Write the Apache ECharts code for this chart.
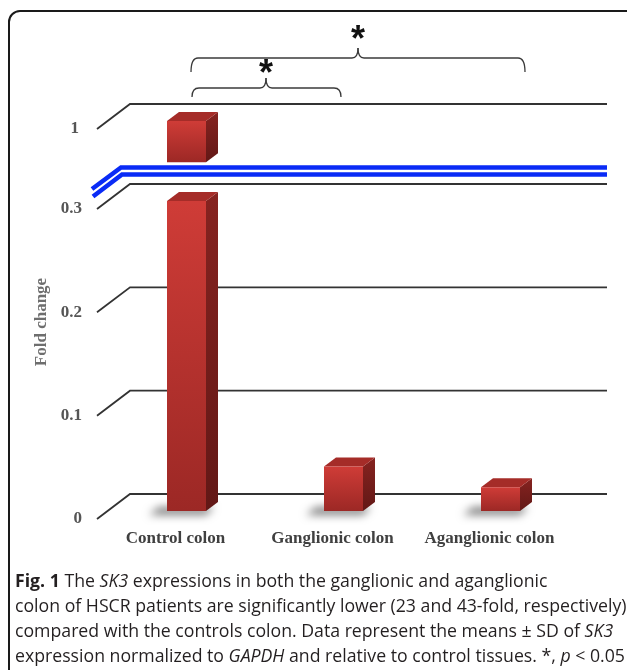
<!DOCTYPE html>
<html><head><meta charset="utf-8">
<script src="https://cdn.jsdelivr.net/npm/echarts@6/dist/echarts.min.js"></script>
<style>html,body{margin:0;padding:0;background:#fff}#c{width:627px;height:670px}</style>
</head><body><div id="c"></div>
<script>
// ---- data ----
const categories = ['Control colon', 'Ganglionic colon', 'Aganglionic colon'];
const foldChange = [1, 0.043, 0.023];
const lowerTicks = [0, 0.1, 0.2, 0.3];
const upperTicks = [1];
const lowerRange = [0, 0.3];
const upperRange = [0.96, 1];
const captionLines = [
  '{b|Fig. 1} The {i|SK3} expressions in both the ganglionic and aganglionic',
  'colon of HSCR patients are significantly lower (23 and 43-fold, respectively)',
  'compared with the controls colon. Data represent the means \u00b1 SD of {i|SK3}',
  'expression normalized to {i|GAPDH} and relative to control tissues. *, {i|p} < 0.05'
];

// ---- styling ----
const DEPTH_X = 33, DEPTH_Y = -25;
const BAR_X = 11, BAR_Y = -8;
const BAR_HALF = 19.5, BAR_DX = 12, BAR_DY = -9;
const SERIF = '"Liberation Serif", "DejaVu Serif", serif';
const SANS = '"Open Sans", "Noto Sans", sans-serif';
const CAP = 17.7;

function gridRender(params, api) {
  const p = api.coord([0, api.value(1)]);
  const cs = params.coordSys;
  const x0 = cs.x, y = p[1];
  return {
    type: 'polyline',
    shape: { points: [[x0, y], [x0 + DEPTH_X, y + DEPTH_Y], [cs.x + cs.width + DEPTH_X + 6, y + DEPTH_Y]] },
    style: { stroke: '#333', lineWidth: 1.8, fill: null }
  };
}

function barRender(range, withShadow) {
  return function (params, api) {
    const i = api.value(0);
    const v = Math.min(api.value(1), range[1]);
    const b = api.coord([i, range[0]]);
    const t = api.coord([i, v]);
    const cx = b[0] + BAR_X, yb = b[1] + BAR_Y, yt = t[1] + BAR_Y;
    const l = cx - BAR_HALF, r = cx + BAR_HALF;
    const children = [];
    if (withShadow) {
      const off = 2000;
      children.push({
        type: 'polygon',
        shape: { points: [[l - 18 - off, yb + 4], [r - off, yb + 4], [r + 8 - off, yb - 4], [l - 8 - off, yb - 4]] },
        style: { fill: '#000', shadowBlur: 9, shadowColor: 'rgba(0,0,0,0.5)', shadowOffsetX: off, shadowOffsetY: 0 }
      });
    }
    children.push({
      type: 'polygon',
      shape: { points: [[r, yt], [r + BAR_DX, yt + BAR_DY], [r + BAR_DX, yb + BAR_DY], [r, yb]] },
      style: { fill: { type: 'linear', x: 0, y: 0, x2: 0, y2: 1, colorStops: [{ offset: 0, color: '#862320' }, { offset: 1, color: '#621816' }] } }
    });
    children.push({
      type: 'polygon',
      shape: { points: [[l, yt], [l + BAR_DX, yt + BAR_DY], [r + BAR_DX, yt + BAR_DY], [r, yt]] },
      style: { fill: '#a52c28' }
    });
    children.push({
      type: 'rect',
      shape: { x: l, y: yt, width: r - l, height: yb - yt },
      style: { fill: { type: 'linear', x: 0, y: 0, x2: 0, y2: 1, colorStops: [{ offset: 0, color: '#cf3c37' }, { offset: 1, color: '#9c2825' }] } }
    });
    return { type: 'group', children: children };
  };
}

function bracket(xl, xr, xm, yTop, yEnd, yTip) {
  const st = { stroke: '#3a3a3a', lineWidth: 1.3, fill: null };
  const c = [
    { type: 'bezierCurve', shape: { x1: xl, y1: yEnd, cpx1: xl, cpy1: yTop, x2: xl + 7, y2: yTop }, style: st },
    { type: 'line', shape: { x1: xl + 7, y1: yTop, x2: xm - 6, y2: yTop }, style: st },
    { type: 'bezierCurve', shape: { x1: xm - 6, y1: yTop, cpx1: xm, cpy1: yTop, x2: xm, y2: yTip }, style: st },
    { type: 'bezierCurve', shape: { x1: xm, y1: yTip, cpx1: xm, cpy1: yTop, x2: xm + 6, y2: yTop }, style: st },
    { type: 'line', shape: { x1: xm + 6, y1: yTop, x2: xr - 7, y2: yTop }, style: st },
    { type: 'bezierCurve', shape: { x1: xr - 7, y1: yTop, cpx1: xr, cpy1: yTop, x2: xr, y2: yEnd }, style: st }
  ];
  return { type: 'group', z: 10, children: c };
}

const barData = categories.map((c, i) => [i, foldChange[i]]);

const chart = echarts.init(document.getElementById('c'), null, { renderer: 'canvas' });
const graphic = [
  { type: 'rect', shape: { x: 9, y: 11, width: 640, height: 700, r: 11 }, style: { fill: null, stroke: '#1a1a1a', lineWidth: 2 }, z: 0 },
  // axis break lines
  { type: 'polyline', shape: { points: [[92, 189], [121, 167.5], [607, 167.5]] }, style: { stroke: '#0a2bf6', lineWidth: 4.5, fill: null }, z: 10 },
  { type: 'polyline', shape: { points: [[93, 196.5], [122, 174.5], [607, 174.5]] }, style: { stroke: '#0a2bf6', lineWidth: 4.5, fill: null }, z: 10 },
  // significance brackets
  bracket(191, 525, 358, 58, 72, 48),
  bracket(192, 341, 266, 88, 97, 78),
  { type: 'text', x: 358, y: 41, style: { text: '*', font: 'bold 36px "Liberation Sans", sans-serif', fill: '#111', textAlign: 'center', textVerticalAlign: 'middle' }, z: 10 },
  { type: 'text', x: 266, y: 75, style: { text: '*', font: 'bold 36px "Liberation Sans", sans-serif', fill: '#111', textAlign: 'center', textVerticalAlign: 'middle' }, z: 10 },
  // y axis title
  { type: 'text', x: 42, y: 322, rotation: Math.PI / 2, style: { text: 'Fold change', font: 'bold 17px ' + SERIF, fill: '#6e6e6e', textAlign: 'center', textVerticalAlign: 'middle' }, z: 10 }
];
captionLines.forEach((ln, k) => {
  graphic.push({
    type: 'text', x: 15, y: 582 + k * 25, z: 10,
    style: {
      text: ln, textVerticalAlign: 'middle', textAlign: 'left',
      fontFamily: SANS, fontSize: CAP, fill: '#231f20',
      rich: {
        b: { fontFamily: SANS, fontSize: CAP, fontWeight: 'bold', fill: '#231f20' },
        i: { fontFamily: SANS, fontSize: CAP, fontStyle: 'italic', fill: '#231f20' }
      }
    }
  });
});

chart.setOption({
  animation: false,
  backgroundColor: '#fff',
  grid: [
    { left: 97, width: 471, top: 209, height: 310 },
    { left: 97, width: 471, top: 129, height: 41.3 }
  ],
  xAxis: [
    { type: 'category', gridIndex: 0, data: categories, axisLine: { show: false }, axisTick: { show: false },
      axisLabel: { interval: 0, hideOverlap: false, margin: 11, fontFamily: SERIF, fontWeight: 'bold', fontSize: 17, color: '#404040' }, splitLine: { show: false } },
    { type: 'category', gridIndex: 1, data: categories, axisLine: { show: false }, axisTick: { show: false },
      axisLabel: { show: false }, splitLine: { show: false } }
  ],
  yAxis: [
    { type: 'value', gridIndex: 0, min: lowerRange[0], max: lowerRange[1], interval: 0.1,
      axisLine: { show: false }, axisTick: { show: false }, splitLine: { show: false },
      axisLabel: { margin: 15, fontFamily: SERIF, fontWeight: 'bold', fontSize: 17, color: '#555',
        formatter: v => (Math.abs(v) < 1e-9 ? '0' : v.toFixed(1)) } },
    { type: 'value', gridIndex: 1, min: upperRange[0], max: upperRange[1], interval: 0.04,
      axisLine: { show: false }, axisTick: { show: false }, splitLine: { show: false },
      axisLabel: { margin: 18, fontFamily: SERIF, fontWeight: 'bold', fontSize: 17, color: '#555',
        formatter: v => (upperTicks.some(t => Math.abs(t - v) < 1e-6) ? String(Math.round(v)) : '') } }
  ],
  series: [
    { type: 'custom', xAxisIndex: 0, yAxisIndex: 0, data: lowerTicks.map(v => [0, v]), renderItem: gridRender, clip: false, z: 1, silent: true },
    { type: 'custom', xAxisIndex: 1, yAxisIndex: 1, data: upperTicks.map(v => [0, v]), renderItem: gridRender, clip: false, z: 1, silent: true },
    { type: 'custom', xAxisIndex: 0, yAxisIndex: 0, data: barData, renderItem: barRender(lowerRange, true), clip: false, z: 2 },
    { type: 'custom', xAxisIndex: 1, yAxisIndex: 1, data: barData.slice(0, 1), renderItem: barRender(upperRange, false), clip: false, z: 2 }
  ],
  graphic: graphic
});
</script>
</body></html>
